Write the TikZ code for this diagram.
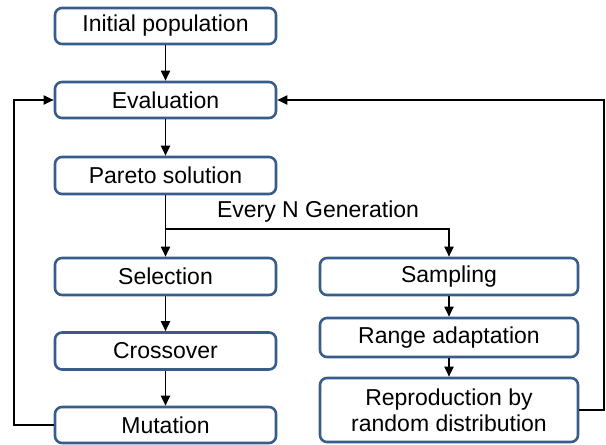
\documentclass[tikz,border=0pt]{standalone}
\usepackage{fontspec}
\setmainfont{Liberation Sans}
\definecolor{flowBlue}{HTML}{385D8A}
\usetikzlibrary{arrows.meta, positioning}

\begin{document}
\begin{tikzpicture}[x=1pt, y=-1pt,
        stepbox/.style={draw=flowBlue, line width=2.6pt, fill=white, rounded corners=7pt,
            minimum height=36pt, inner sep=0pt, font=\fontsize{23}{26}\selectfont},
        leftbox/.style={stepbox, minimum width=221pt},
        rightbox/.style={stepbox, minimum width=258pt},
        flow/.style={line width=1.8pt, -{Triangle[length=10pt, width=9pt]}}]
        \useasboundingbox (0,0) rectangle (606,445);

        % Main loop
        \node[leftbox] (init) at (165.5,26) {Initial population};
        \node[leftbox] (eval) at (165.5,100) {Evaluation};
        \node[leftbox, minimum height=37pt] (pareto) at (165.5,175.5) {Pareto solution};
        \node[leftbox, minimum height=37pt] (selection) at (165.5,276.5) {Selection};
        \node[leftbox, minimum height=37pt] (crossover) at (165.5,351) {Crossover};
        \node[leftbox] (mutation) at (165.5,425) {Mutation};

        % Sampling branch
        \node[rightbox, minimum height=37pt] (sampling) at (449,276.5) {Sampling};
        \node[rightbox, minimum height=39pt] (range) at (449,337.5) {Range adaptation};
        \node[rightbox, minimum height=64pt, align=center] (repro) at (449,410) {Reproduction by\\random distribution};

        % Arrows
        \draw[flow] (init) -- (eval);
        \draw[flow] (eval) -- (pareto);
        \coordinate (split) at (165.5,229);
        \draw[line width=1.8pt] (pareto) -- (split);
        \draw[flow] (split) -- (selection);
        \draw[flow] (split) -| (sampling);
        \node[font=\fontsize{23}{26}\selectfont] (every) at (318,212) {Every N Generation};
        \draw[flow] (selection) -- (crossover);
        \draw[flow] (crossover) -- (mutation);
        \draw[flow] (sampling) -- (range);
        \draw[flow] (range) -- (repro);

        % Feedback to evaluation
        \draw[flow] (mutation.west) -- ++(-40,0) |- (eval.west);
        \draw[flow] (repro.east) -- ++(25,0) |- (eval.east);
    \end{tikzpicture}
\end{document}
